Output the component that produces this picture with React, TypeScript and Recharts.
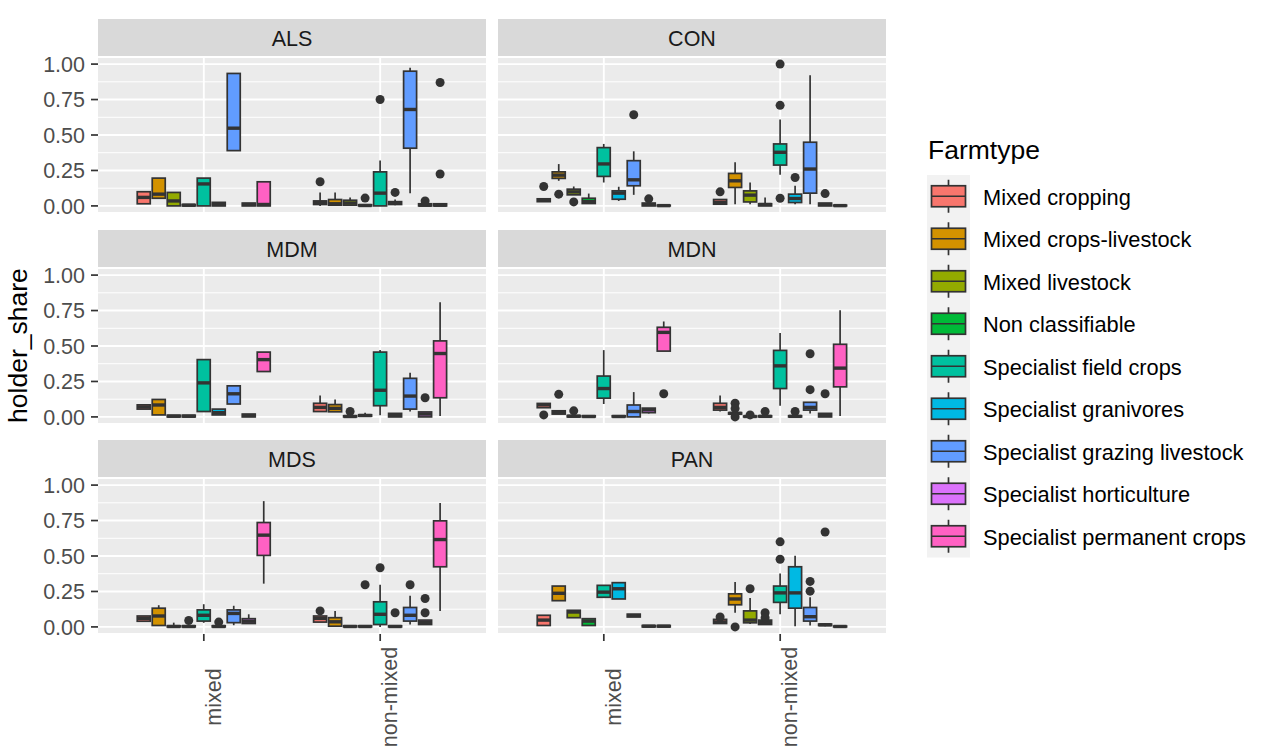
import React from 'react';
import { BarChart, Bar, XAxis, YAxis, CartesianGrid, ReferenceLine } from 'recharts';

const FONT = '"Liberation Sans", Arial, sans-serif';

const farmtypes = [
  'Mixed cropping', 'Mixed crops-livestock', 'Mixed livestock', 'Non classifiable',
  'Specialist field crops', 'Specialist granivores', 'Specialist grazing livestock',
  'Specialist horticulture', 'Specialist permanent crops',
];
const fillColors = ['#F8766D', '#D39200', '#93AA00', '#00BA38', '#00C19F', '#00B9E3', '#619CFF', '#DB72FB', '#FF61C3'];
const regionNames = ['ALS', 'CON', 'MDM', 'MDN', 'MDS', 'PAN'];
const holdingTypes = ['mixed', 'non-mixed'];
const yTicks = [0, 0.25, 0.5, 0.75, 1];
const yMinorTicks = [0.125, 0.375, 0.625, 0.875];

// one row per farmtype: [lower whisker, q1, median, q3, upper whisker]
const alsMixed = [
  [0.015, 0.015, 0.06, 0.1, 0.1], [0.054, 0.054, 0.083, 0.196, 0.196], [0, 0, 0.035, 0.095, 0.095],
  [0, 0, 0.005, 0.01, 0.01], [0, 0, 0.155, 0.196, 0.196], [0, 0, 0.01, 0.025, 0.025],
  [0.39, 0.39, 0.548, 0.934, 0.934], [0, 0, 0.01, 0.02, 0.02], [0, 0, 0.01, 0.17, 0.17],
];
const alsMixedOut = [[], [], [], [], [], [], [], [], []];
const alsNonMixed = [
  [0, 0.01, 0.025, 0.035, 0.095], [0, 0.005, 0.015, 0.045, 0.095], [0, 0.005, 0.02, 0.04, 0.06],
  [0, 0, 0.003, 0.008, 0.008], [0, 0, 0.09, 0.24, 0.32], [0.005, 0.01, 0.02, 0.03, 0.045],
  [0.09, 0.407, 0.68, 0.95, 0.975], [0, 0, 0.005, 0.015, 0.02], [0, 0, 0.005, 0.015, 0.02],
];
const alsNonMixedOut = [[0.17], [], [], [0.055], [0.75], [0.095], [], [0.035], [0.87, 0.225]];

const conMixed = [
  [0.03, 0.03, 0.04, 0.05, 0.05], [0.177, 0.194, 0.217, 0.24, 0.295], [0.078, 0.078, 0.099, 0.118, 0.137],
  [0.017, 0.017, 0.03, 0.054, 0.087], [0.165, 0.208, 0.296, 0.411, 0.437], [0.035, 0.047, 0.09, 0.106, 0.135],
  [0.078, 0.142, 0.184, 0.319, 0.385], [0, 0, 0.01, 0.02, 0.02], [0, 0, 0.002, 0.005, 0.005],
];
const conMixedOut = [[0.137], [0.083], [0.028], [], [], [], [0.643], [0.05], []];
const conNonMixed = [
  [0.012, 0.012, 0.025, 0.045, 0.045], [0.012, 0.13, 0.177, 0.229, 0.307], [0.012, 0.028, 0.076, 0.106, 0.165],
  [0, 0, 0.01, 0.015, 0.06], [0.22, 0.288, 0.378, 0.437, 0.61], [0.012, 0.024, 0.052, 0.083, 0.142],
  [0.012, 0.09, 0.26, 0.449, 0.922], [0, 0, 0.01, 0.02, 0.02], [0, 0, 0.002, 0.005, 0.005],
];
const conNonMixedOut = [[0.099], [], [], [], [1.0, 0.709, 0.054], [0.2], [], [0.087], []];

const mdmMixed = [
  [0.055, 0.055, 0.07, 0.085, 0.085], [0.014, 0.014, 0.084, 0.123, 0.123], [0, 0, 0.005, 0.012, 0.012],
  [0, 0, 0.005, 0.012, 0.012], [0.038, 0.038, 0.24, 0.404, 0.404], [0.014, 0.014, 0.03, 0.055, 0.055],
  [0.091, 0.091, 0.163, 0.219, 0.219], [0, 0, 0.01, 0.02, 0.02], [0.32, 0.32, 0.404, 0.457, 0.457],
];
const mdmMixedOut = [[], [], [], [], [], [], [], [], []];
const mdmNonMixed = [
  [0.038, 0.038, 0.067, 0.096, 0.151], [0.036, 0.036, 0.06, 0.087, 0.123], [0, 0, 0.003, 0.008, 0.008],
  [0, 0.005, 0.01, 0.015, 0.03], [0.012, 0.079, 0.188, 0.457, 0.471], [0, 0, 0.01, 0.025, 0.025],
  [0.038, 0.055, 0.147, 0.272, 0.312], [0, 0, 0.02, 0.035, 0.035], [0.007, 0.135, 0.447, 0.536, 0.808],
];
const mdmNonMixedOut = [[], [], [0.038], [], [], [], [], [0.135], []];

const mdnMixed = [
  [0.065, 0.065, 0.085, 0.095, 0.095], [0.02, 0.02, 0.03, 0.043, 0.043], [0, 0, 0.005, 0.01, 0.01],
  [0, 0, 0.003, 0.008, 0.008], [0.091, 0.132, 0.2, 0.288, 0.471], [0, 0, 0.003, 0.008, 0.008],
  [0, 0, 0.038, 0.084, 0.175], [0.024, 0.03, 0.05, 0.062, 0.062], [0.464, 0.464, 0.596, 0.632, 0.673],
];
const mdnMixedOut = [[0.014], [0.159], [0.043], [], [], [], [], [], [0.163]];
const mdnNonMixed = [
  [0.038, 0.048, 0.067, 0.096, 0.151], [0.02, 0.02, 0.025, 0.03, 0.03], [0, 0, 0.003, 0.006, 0.006],
  [0, 0, 0.004, 0.008, 0.008], [0.079, 0.2, 0.36, 0.469, 0.591], [0, 0, 0.004, 0.008, 0.008],
  [0.024, 0.048, 0.067, 0.103, 0.103], [0, 0, 0.01, 0.025, 0.025], [0.007, 0.212, 0.344, 0.512, 0.752],
];
const mdnNonMixedOut = [[], [0.096, 0.06, 0.0], [0.014], [0.038], [], [0.038], [0.445, 0.192], [0.163], []];

const mdsMixed = [
  [0.04, 0.04, 0.06, 0.077, 0.077], [0.01, 0.01, 0.077, 0.132, 0.153], [0, 0, 0.003, 0.008, 0.03],
  [0, 0, 0.003, 0.008, 0.008], [0.029, 0.041, 0.082, 0.12, 0.16], [0, 0, 0.003, 0.008, 0.008],
  [0.012, 0.03, 0.095, 0.12, 0.149], [0.024, 0.024, 0.04, 0.058, 0.089], [0.305, 0.504, 0.647, 0.736, 0.887],
];
const mdsMixedOut = [[], [], [], [0.045], [], [0.034], [], [], []];
const mdsNonMixed = [
  [0.034, 0.034, 0.06, 0.077, 0.077], [0.005, 0.005, 0.036, 0.065, 0.113], [0, 0, 0.003, 0.008, 0.008],
  [0, 0, 0.003, 0.008, 0.008], [0, 0.017, 0.089, 0.177, 0.297], [0, 0, 0.003, 0.008, 0.008],
  [0.017, 0.041, 0.082, 0.137, 0.22], [0.017, 0.017, 0.03, 0.048, 0.048], [0.113, 0.424, 0.616, 0.748, 0.873],
];
const mdsNonMixedOut = [[0.113], [], [], [0.297], [0.417], [0.1], [0.297], [0.2, 0.1], []];

const panMixed = [
  [0.01, 0.01, 0.048, 0.082, 0.082], [0.185, 0.185, 0.237, 0.288, 0.288], [0.065, 0.065, 0.105, 0.117, 0.117],
  [0.01, 0.01, 0.041, 0.058, 0.058], [0.209, 0.209, 0.245, 0.293, 0.293], [0.197, 0.197, 0.269, 0.312, 0.312],
  [0.07, 0.07, 0.08, 0.09, 0.09], [0, 0, 0.005, 0.01, 0.01], [0, 0, 0.005, 0.01, 0.01],
];
const panMixedOut = [[], [], [], [], [], [], [], [], []];
const panNonMixed = [
  [0.024, 0.024, 0.035, 0.053, 0.053], [0.1, 0.156, 0.197, 0.233, 0.317], [0.02, 0.029, 0.048, 0.113, 0.204],
  [0.017, 0.017, 0.03, 0.048, 0.048], [0.089, 0.173, 0.24, 0.288, 0.377], [0.005, 0.132, 0.24, 0.424, 0.501],
  [0.01, 0.041, 0.072, 0.137, 0.209], [0.005, 0.01, 0.015, 0.02, 0.025], [0, 0, 0.003, 0.006, 0.006],
];
const panNonMixedOut = [[0.07], [0], [0.269], [0.1, 0.065], [0.6, 0.477], [], [0.321, 0.252], [0.669], []];

const regionBoxes: Record<string, number[][][]> = {
  ALS: [alsMixed, alsNonMixed], CON: [conMixed, conNonMixed],
  MDM: [mdmMixed, mdmNonMixed], MDN: [mdnMixed, mdnNonMixed],
  MDS: [mdsMixed, mdsNonMixed], PAN: [panMixed, panNonMixed],
};
const regionOutliers: Record<string, number[][][]> = {
  ALS: [alsMixedOut, alsNonMixedOut], CON: [conMixedOut, conNonMixedOut],
  MDM: [mdmMixedOut, mdmNonMixedOut], MDN: [mdnMixedOut, mdnNonMixedOut],
  MDS: [mdsMixedOut, mdsNonMixedOut], PAN: [panMixedOut, panNonMixedOut],
};

// layout (px)
const COL_X = [98, 498];
const ROW_Y = [57, 267.5, 478];
const PW = 388;
const PH = 156;
const STRIP_H = 38;
const Y_AXIS_W = 60;
const X_AXIS_H = 117;
const PAD_V = 12; // room above/below the plot so tick labels are not clipped
const LINE = '#333333';

function extent(box: number[], outs: number[]) {
  const all = [box[0], box[4], ...outs];
  return [Math.min(...all), Math.max(...all)];
}

function BoxShape(props: any) {
  const { x, y, width, height, payload, fi } = props;
  const box: number[] = payload[`b${fi}`];
  const outs: number[] = payload[`o${fi}`];
  const [lo, hi] = extent(box, outs);
  const top = Math.min(y, y + height);
  const h = Math.abs(height);
  // bar spans [lo, hi] on the y scale; place the quartiles inside it
  const py = (v: number) => (hi === lo ? top : top + (h * (hi - v)) / (hi - lo));
  const cx = x + width / 2;
  const boxTop = py(box[3]);
  const boxBottom = py(box[1]);
  return (
    <g>
      <line x1={cx} x2={cx} y1={py(box[4])} y2={boxTop} stroke={LINE} strokeWidth={1.7} />
      <line x1={cx} x2={cx} y1={boxBottom} y2={py(box[0])} stroke={LINE} strokeWidth={1.7} />
      <rect x={x} y={boxTop} width={width} height={Math.max(boxBottom - boxTop, 0)}
        fill={fillColors[fi]} stroke={LINE} strokeWidth={1.7} />
      <line x1={x} x2={x + width} y1={py(box[2])} y2={py(box[2])} stroke={LINE} strokeWidth={3.4} />
      {outs.map((v, k) => (
        <circle key={k} cx={cx} cy={py(v)} r={4.5} fill={LINE} />
      ))}
    </g>
  );
}

function XTick(props: any) {
  const { x, y, payload } = props;
  return (
    <text transform={`translate(${x + 17},${y + 54}) rotate(-90)`} textAnchor="middle"
      fontSize={21.5} fill="#4D4D4D" fontFamily={FONT}>
      {payload.value}
    </text>
  );
}

function Panel({ name, col, row }: { name: string; col: number; row: number }) {
  const showY = col === 0;
  const showX = row === 2;
  const rows = holdingTypes.map((cat, gi) => {
    const d: any = { cat };
    farmtypes.forEach((_, fi) => {
      d[`b${fi}`] = regionBoxes[name][gi][fi];
      d[`o${fi}`] = regionOutliers[name][gi][fi];
    });
    return d;
  });
  const left = COL_X[col] - (showY ? Y_AXIS_W : 0);
  const width = PW + (showY ? Y_AXIS_W : 0);
  const bottomPad = showX ? 0 : PAD_V;
  const height = PAD_V + PH + bottomPad + (showX ? X_AXIS_H : 0);
  const xPad = (PW * 0.1) / 2.2;

  return (
    <>
      <div style={{
        position: 'absolute', left: COL_X[col], top: ROW_Y[row] - STRIP_H, width: PW, height: STRIP_H,
        background: '#D9D9D9', color: '#1A1A1A', fontFamily: FONT, fontSize: 21.5,
        display: 'flex', alignItems: 'center', justifyContent: 'center', paddingTop: 3, boxSizing: 'border-box',
      }}>
        {name}
      </div>
      <div style={{ position: 'absolute', left, top: ROW_Y[row] - PAD_V }}>
        <BarChart width={width} height={height} data={rows}
          margin={{ top: PAD_V, right: 0, bottom: bottomPad, left: 0 }}
          barGap={2} barCategoryGap={21.6}>
          <CartesianGrid fill="#EBEBEB" stroke="#FFFFFF" strokeWidth={1.9} vertical={false} />
          <XAxis dataKey="cat" type="category" hide={!showX} height={X_AXIS_H}
            padding={{ left: xPad, right: xPad }} interval={0}
            axisLine={false} tickSize={7} tickLine={{ stroke: LINE, strokeWidth: 1.7 }}
            tick={<XTick />} />
          <YAxis type="number" domain={[-0.05, 1.05]} ticks={yTicks} hide={!showY} width={Y_AXIS_W}
            allowDataOverflow axisLine={false} tickSize={7} tickMargin={6} interval={0}
            tickLine={{ stroke: LINE, strokeWidth: 1.7 }}
            tickFormatter={(v: number) => v.toFixed(2)}
            tick={{ fontSize: 21.5, fill: '#4D4D4D', fontFamily: FONT }} />
          {yMinorTicks.map((v) => (
            <ReferenceLine key={`m${v}`} y={v} stroke="#FFFFFF" strokeWidth={1} zIndex={-50} />
          ))}
          {holdingTypes.map((c) => (
            <ReferenceLine key={`v${c}`} x={c} stroke="#FFFFFF" strokeWidth={1.9} zIndex={-50} />
          ))}
          {farmtypes.map((ft, fi) => (
            <Bar key={ft} name={ft} isAnimationActive={false}
              dataKey={(d: any) => extent(d[`b${fi}`], d[`o${fi}`])}
              shape={(p: any) => <BoxShape {...p} fi={fi} />} />
          ))}
        </BarChart>
      </div>
    </>
  );
}

function Legend() {
  const keyTop = 175;
  const keyH = 42.5;
  return (
    <g fontFamily={FONT}>
      <text x={928} y={159} fontSize={26.5} fill="#000">Farmtype</text>
      <rect x={927} y={keyTop} width={43} height={keyH * farmtypes.length} fill="#F2F2F2" />
      {farmtypes.map((ft, i) => {
        const cy = keyTop + keyH * i + keyH / 2;
        return (
          <g key={ft}>
            <line x1={948.5} x2={948.5} y1={cy - 16.5} y2={cy + 16.5} stroke={LINE} strokeWidth={1.7} />
            <rect x={931.5} y={cy - 10.5} width={34} height={21} fill={fillColors[i]} stroke={LINE} strokeWidth={1.7} />
            <line x1={931.5} x2={965.5} y1={cy} y2={cy} stroke={LINE} strokeWidth={1.7} />
            <text x={983} y={cy} dy="0.4em" fontSize={21.8} fill="#000">{ft}</text>
          </g>
        );
      })}
    </g>
  );
}

export default function App() {
  return (
    <div style={{ position: 'absolute', left: 0, top: 0, width: 1263, height: 751, background: '#FFFFFF', overflow: 'hidden' }}>
      {regionNames.map((name, i) => (
        <Panel key={name} name={name} col={i % 2} row={Math.floor(i / 2)} />
      ))}
      <svg width={1263} height={751} style={{ position: 'absolute', left: 0, top: 0, pointerEvents: 'none' }}>
        <text transform="translate(27,345.6) rotate(-90)" textAnchor="middle" fontSize={26.5}
          fontFamily={FONT} fill="#000">holder_share</text>
        <Legend />
      </svg>
    </div>
  );
}
